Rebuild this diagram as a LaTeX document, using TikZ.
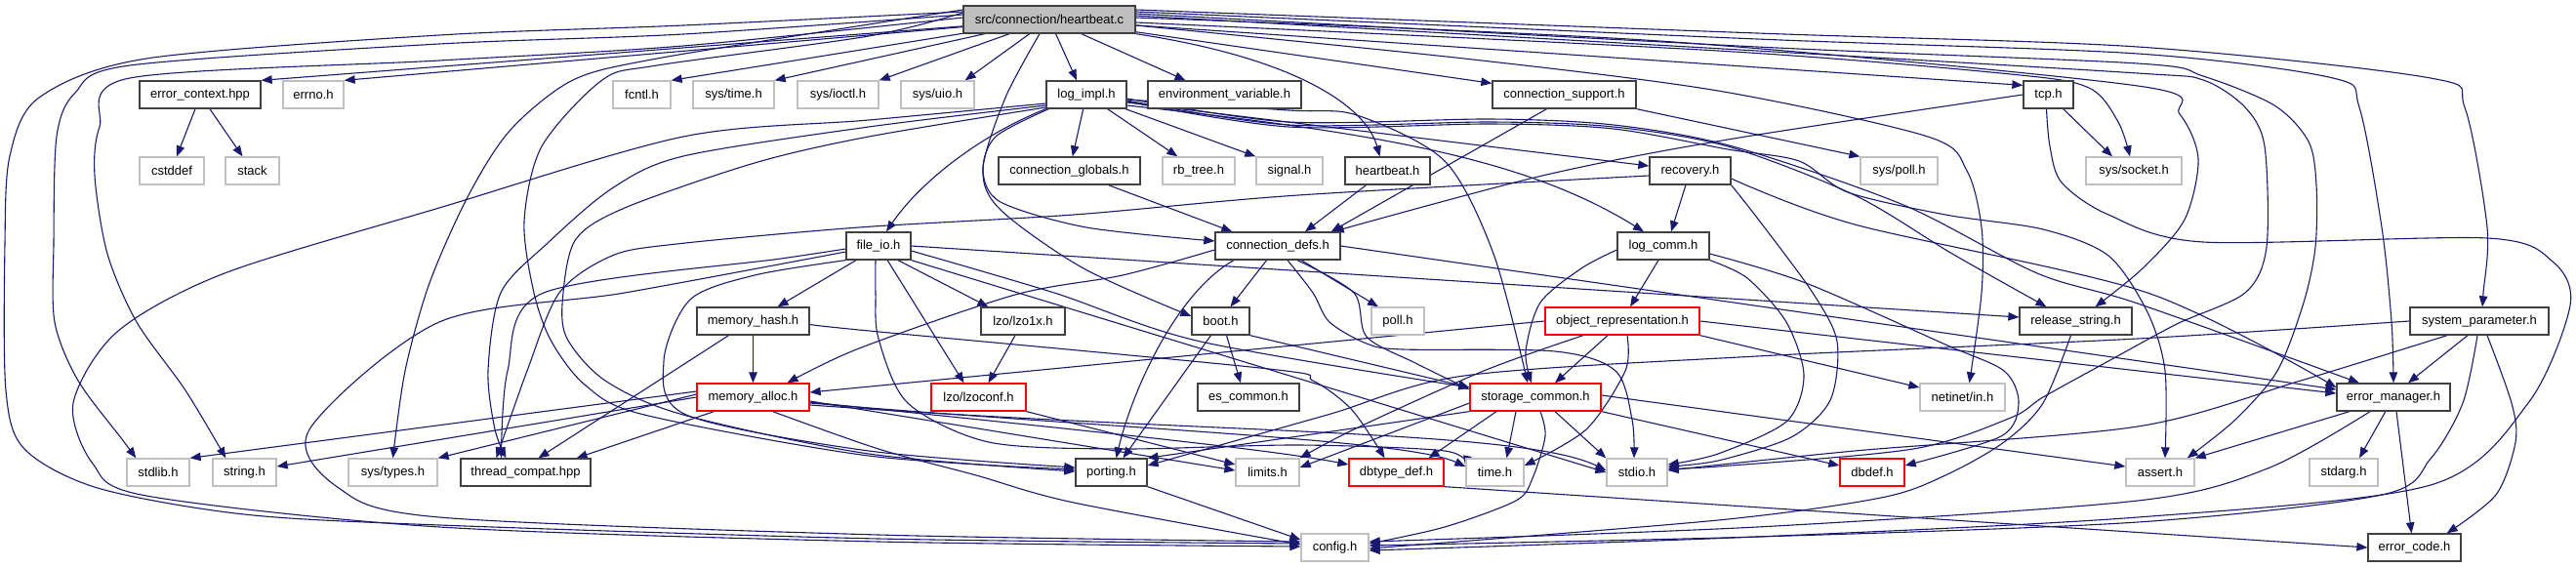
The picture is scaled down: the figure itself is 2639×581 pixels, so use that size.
\documentclass[tikz,border=0pt]{standalone}
\usepackage{fontspec}
\setmainfont{Liberation Sans}
\usetikzlibrary{arrows.meta}
\definecolor{edgec}{HTML}{191970}
\definecolor{bord}{HTML}{404040}
\definecolor{gbord}{HTML}{BFBFBF}
\definecolor{rootfill}{HTML}{BFBFBF}
\pgfdeclarelayer{bg}
\pgfdeclarelayer{paper}
\pgfsetlayers{paper,bg,main}
\begin{document}
\begin{tikzpicture}[x=1pt,y=-1pt,
  every node/.style={font=\fontsize{13}{15}\selectfont},
  nb/.style={draw, rectangle, minimum height=28pt, inner sep=0pt, line width=1.3pt, fill=white},
  bn/.style={nb, draw=bord},
  gn/.style={nb, draw=gbord},
  rn/.style={nb, draw=red},
  rt/.style={nb, draw=bord, fill=rootfill},
  e/.style={draw=edgec, line width=1.1pt, -{Triangle[length=11pt,width=8.5pt]}}]
\useasboundingbox (0,0) rectangle (2639,581);
\begin{pgfonlayer}{paper}
\fill[white] (0,0) rectangle (2639,581);
\end{pgfonlayer}
% ---------------- nodes
\node[rt, minimum width=176pt] (hb) at (1075,20) {src/connection/heartbeat.c};
\node[bn, minimum width=124pt] (ectx) at (205,97) {error\_context.hpp};
\node[gn, minimum width=62pt] (errno) at (321,97) {errno.h};
\node[gn, minimum width=59pt] (fcntl) at (657.5,97) {fcntl.h};
\node[gn, minimum width=83pt] (systime) at (751.5,97) {sys/time.h};
\node[gn, minimum width=83pt] (sysioctl) at (858.5,97) {sys/ioctl.h};
\node[gn, minimum width=75pt] (sysuio) at (960.5,97) {sys/uio.h};
\node[bn, minimum width=82pt] (logimpl) at (1113,97) {log\_impl.h};
\node[bn, minimum width=157pt] (envvar) at (1254.5,97) {environment\_variable.h};
\node[bn, minimum width=147pt] (connsup) at (1602.5,97) {connection\_support.h};
\node[bn, minimum width=51pt] (tcp) at (2098.5,97) {tcp.h};
\node[gn, minimum width=66pt] (cstddef) at (176,175) {cstddef};
\node[gn, minimum width=55pt] (stack) at (258.5,175) {stack};
\node[bn, minimum width=145pt] (connglob) at (1095.5,175) {connection\_globals.h};
\node[gn, minimum width=74pt] (rbtree) at (1228,175) {rb\_tree.h};
\node[gn, minimum width=68pt] (signal) at (1321,175) {signal.h};
\node[bn, minimum width=87pt] (hbh) at (1421.5,175) {heartbeat.h};
\node[bn, minimum width=83pt] (recovery) at (1731.5,175) {recovery.h};
\node[gn, minimum width=79pt] (syspoll) at (1945.5,175) {sys/poll.h};
\node[gn, minimum width=98pt] (syssock) at (2186,175) {sys/socket.h};
\node[bn, minimum width=66pt] (fileio) at (900,252) {file\_io.h};
\node[bn, minimum width=128pt] (conndefs) at (1309,252) {connection\_defs.h};
\node[bn, minimum width=94pt] (logcomm) at (1704,252) {log\_comm.h};
\node[bn, minimum width=115pt] (memhash) at (771.5,329) {memory\_hash.h};
\node[bn, minimum width=86pt] (lzo1x) at (1048,329) {lzo/lzo1x.h};
\node[bn, minimum width=59pt] (boot) at (1250.5,329) {boot.h};
\node[gn, minimum width=54pt] (poll) at (1432,329) {poll.h};
\node[rn, minimum width=158pt] (objrep) at (1662,329) {object\_representation.h};
\node[bn, minimum width=115pt] (relstr) at (2126.5,329) {release\_string.h};
\node[bn, minimum width=142pt] (syspar) at (2540,329) {system\_parameter.h};
\node[rn, minimum width=115pt] (memalloc) at (771.5,407) {memory\_alloc.h};
\node[rn, minimum width=97pt] (lzoconf) at (1002.5,407) {lzo/lzoconf.h};
\node[bn, minimum width=104pt] (escommon) at (1279,407) {es\_common.h};
\node[rn, minimum width=134pt] (storcom) at (1573,407) {storage\_common.h};
\node[gn, minimum width=87pt] (netinet) at (2010.5,407) {netinet/in.h};
\node[bn, minimum width=116pt] (errmgr) at (2452,407) {error\_manager.h};
\node[gn, minimum width=64pt] (stdlib) at (162,484) {stdlib.h};
\node[gn, minimum width=65pt] (string) at (250.5,484) {string.h};
\node[gn, minimum width=91pt] (systypes) at (402.5,484) {sys/types.h};
\node[bn, minimum width=133pt] (thrcompat) at (538.5,484) {thread\_compat.hpp};
\node[bn, minimum width=73pt] (porting) at (1138.5,484) {porting.h};
\node[gn, minimum width=65pt] (limits) at (1298.5,484) {limits.h};
\node[rn, minimum width=97pt] (dbtype) at (1430.5,484) {dbtype\_def.h};
\node[gn, minimum width=59pt] (time) at (1531.5,484) {time.h};
\node[gn, minimum width=62pt] (stdio) at (1677,484) {stdio.h};
\node[rn, minimum width=66pt] (dbdef) at (1918,484) {dbdef.h};
\node[gn, minimum width=70pt] (assert) at (2213,484) {assert.h};
\node[gn, minimum width=70pt] (stdarg) at (2401,484) {stdarg.h};
\node[gn, minimum width=69pt] (config) at (1367.5,561) {config.h};
\node[bn, minimum width=95pt] (errcode) at (2473.5,561) {error\_code.h};
% ---------------- edges
\begin{pgfonlayer}{bg}
% root: straight
\draw[e] (hb) -- (ectx.north east);
\draw[e] (hb) -- (errno.north east);
\draw[e] (hb) -- (fcntl.north east);
\draw[e] (hb) -- (systime.north east);
\draw[e] (hb) -- (sysioctl.north east);
\draw[e] (hb) -- ([xshift=-10pt]sysuio.north east);
\draw[e] (hb) -- ([xshift=-10pt]logimpl.north);
\draw[e] (hb) -- ([xshift=-40pt]envvar.north);
\draw[e] (hb) -- ([yshift=-3pt]connsup.north west);
\draw[e] (hb) -- ([yshift=-5pt]tcp.north west);
% root: curves
\draw[e] (hb.south east) .. controls (1330,60) and (1400,110) .. ([xshift=-8pt]hbh.north);
\draw[e] plot[smooth] coordinates {([yshift=-3pt]hb.east) (1760,52) (2060,76) (2140,90) (2170,125) ([xshift=-4pt]syssock.north)};
\draw[e] plot[smooth] coordinates {([yshift=-6pt]hb.east) (1500,60) (1760,93) (1975,140) (2015,175) (2030,233) (2030,300) ([xshift=7pt]netinet.north)};
\draw[e] plot[smooth] coordinates {([yshift=2pt]hb.east) (1700,42) (2190,88) (2233,117) (2252,163) (2238,225) (2195,275) ([xshift=20pt]relstr.north)};
\draw[e] plot[smooth] coordinates {([yshift=4pt]hb.east) (1800,52) (2190,75) (2257,82) (2300,110) (2320,150) (2322,253) (2300,300) (2230,332) (2160,370) (2093,407) (2060,428) (1960,460) (1760,478) ([yshift=4pt]stdio.east)};
\draw[e] plot[smooth] coordinates {([yshift=6pt]hb.east) (1800,48) (2190,65) (2257,78) (2330,108) (2365,145) (2373,190) (2372,253) (2360,310) (2333,380) (2290,430) ([xshift=-8pt]assert.north east)};
\draw[e] plot[smooth] coordinates {([yshift=8pt]hb.east) (1800,40) (2190,55) (2390,80) (2417,110) (2440,233) (2450,330) (errmgr.north)};
\draw[e] plot[smooth] coordinates {([yshift=10pt]hb.east) (1800,34) (2190,48) (2490,80) (2525,110) (2548,233) (2544,300) ([xshift=3pt]syspar.north)};
\draw[e] plot[smooth] coordinates {([yshift=8pt]hb.west) (700,26) (450,36) (150,60) (40,100) (10,160) (5,250) (6,400) (25,460) (100,500) (250,527) (450,538) (900,552) ([yshift=4pt]config.west)};
\draw[e] plot[smooth] coordinates {([yshift=5pt]hb.west) (700,35) (450,45) (133,67) (77,95) (58,140) (55,250) (56,330) (80,390) (125,450) ([xshift=10pt]stdlib.north west)};
\draw[e] plot[smooth] coordinates {([yshift=2pt]hb.west) (700,47) (450,62) (133,80) (102,130) (97,180) (110,260) (140,330) (190,400) ([xshift=14pt]string.north west)};
\draw[e] plot[smooth] coordinates {([yshift=10pt]hb.west) (890,25) (673,60) (587,82) (523,133) (480,200) (440,290) (415,380) (systypes.north)};
\draw[e] plot[smooth] coordinates {([yshift=7pt]hb.west) (890,37) (673,67) (617,82) (555,150) (537,227) (547,300) (565,350) (600,395) (660,425) (890,467) ([yshift=3pt]porting.west)};
\draw[e] plot[smooth] coordinates {([xshift=-10pt]hb.south) (1030,100) (1007,173) (1025,215) (1110,275) ([yshift=5pt]boot.west)};
% log_impl.h
\draw[e] (logimpl) -- (connglob);
\draw[e] (logimpl) -- (rbtree);
\draw[e] (logimpl) -- (signal.north west);
\draw[e] (logimpl.south west) .. controls (1000,140) and (940,190) .. ([xshift=8pt]fileio.north);
\draw[e] plot[smooth] coordinates {([xshift=3pt]logimpl.south west) (1020,140) (1007,175) (1025,207) (1113,233) ([yshift=5pt]conndefs.west)};
\draw[e] ([yshift=-8pt]logimpl.east) -- ([yshift=5pt]recovery.west);
\draw[e] ([yshift=-11pt]logimpl.east) .. controls (1400,135) and (1560,160) .. ([xshift=-20pt]logcomm.north);
\draw[e] plot[smooth] coordinates {([yshift=-5pt]logimpl.east) (1320,113) (1390,118) (1480,165) (1530,260) ([xshift=-8pt]storcom.north)};
\draw[e] plot[smooth] coordinates {([yshift=-6pt]logimpl.east) (1320,128) (1527,125) (1653,130) (1770,150) (1900,200) (2000,260) ([xshift=-30pt]relstr.north)};
\draw[e] plot[smooth] coordinates {([yshift=-7pt]logimpl.east) (1320,130) (1527,127) (1653,132) (1770,153) (1843,165) (1893,197) (1993,220) (2093,235) (2160,262) (2200,320) (2218,380) ([xshift=5pt]assert.north)};
\draw[e] plot[smooth] coordinates {([yshift=-4pt]logimpl.east) (1320,125) (1527,122) (1653,128) (1775,150) (1950,210) (2087,280) (2190,311) ([xshift=-35pt]errmgr.north)};
\draw[e] plot[smooth] coordinates {([yshift=-11pt]logimpl.west) (890,130) (700,160) (627,193) (560,250) (513,300) (500,380) (507,440) ([xshift=-20pt]thrcompat.north)};
\draw[e] plot[smooth] coordinates {([yshift=-13pt]logimpl.west) (890,140) (773,167) (640,213) (590,245) (577,300) (580,345) (620,390) (700,425) (890,465) ([yshift=1pt]porting.west)};
\draw[e] plot[smooth] coordinates {([yshift=-9pt]logimpl.west) (890,123) (700,140) (450,213) (230,280) (120,340) (75,413) (95,475) (150,508) (450,540) (900,555) ([yshift=1pt]config.west)};
% error_context.hpp
\draw[e] ([xshift=-5pt]ectx.south) -- ([xshift=5pt]cstddef.north);
\draw[e] ([xshift=10pt]ectx.south) -- ([xshift=-10pt]stack.north);
% connection headers
\draw[e] ([xshift=40pt]connglob.south) -- ([xshift=18pt]conndefs.north west);
\draw[e] ([xshift=-22pt]hbh.south) -- ([xshift=28pt]conndefs.north);
\draw[e] ([xshift=-18pt]connsup.south) -- ([xshift=-10pt]conndefs.north east);
\draw[e] (connsup.south east) -- (syspoll.north west);
\draw[e] plot[smooth] coordinates {(tcp.west) (1770,143) (1580,180) ([xshift=-8pt]conndefs.north east)};
\draw[e] (tcp) -- ([xshift=-22pt]syssock.north);
\draw[e] plot[smooth] coordinates {([xshift=-2pt]tcp.south) (2100,150) (2112,187) (2160,220) (2257,248) (2548,244) (2615,268) (2633,313) (2590,413) (2490,497) (2190,530) (1800,550) ([yshift=-3pt]config.east)};
% recovery.h
\draw[e] (recovery) -- ([xshift=8pt]logcomm.north);
\draw[e] plot[smooth] coordinates {([yshift=-5pt]recovery.west) (1330,200) (1100,220) (880,233) (693,250) (627,262) (573,300) (540,380) ([xshift=-30pt]thrcompat.north)};
\draw[e] plot[smooth] coordinates {(recovery.south east) (1803,227) (1857,300) (1882,350) (1875,410) (1835,448) (1760,472) ([yshift=6pt]stdio.east)};
\draw[e] plot[smooth] coordinates {([yshift=-8pt]recovery.east) (1900,230) (2200,300) ([yshift=10pt]errmgr.west)};
% log_comm.h
\draw[e] ([xshift=-5pt]logcomm.south) -- ([xshift=8pt]objrep.north);
\draw[e] plot[smooth] coordinates {([yshift=-4pt]logcomm.west) (1620,275) (1578,310) (1563,360) ([xshift=-4pt]storcom.north)};
\draw[e] plot[smooth] coordinates {(logcomm.south east) (1790,285) (1830,330) (1848,385) (1830,432) (1760,465) ([yshift=8pt]stdio.east)};
\draw[e] plot[smooth] coordinates {([yshift=-8pt]logcomm.east) (1850,290) (1993,353) (2053,380) (2068,413) (2050,447) ([yshift=7pt]dbdef.east)};
% connection_defs.h
\draw[e] (conndefs) -- ([xshift=10pt]boot.north);
\draw[e] (conndefs) -- ([xshift=-20pt]poll.north);
\draw[e] ([xshift=-45pt]conndefs.south) .. controls (1205,300) and (1160,400) .. ([xshift=5pt]porting.north);
\draw[e] plot[smooth] coordinates {([yshift=-4pt]conndefs.west) (1150,282) (1040,302) (880,357) ([xshift=35pt]memalloc.north)};
\draw[e] plot[smooth] coordinates {([xshift=10pt]conndefs.south) (1345,300) (1362,330) (1400,352) (1437,358) (1593,360) (1655,380) (1672,430) ([xshift=-3pt]stdio.north)};
\draw[e] plot[smooth] coordinates {([xshift=20pt]conndefs.south) (1387,300) (1400,345) (1450,372) ([yshift=8pt]storcom.west)};
\draw[e] (conndefs.east) -- ([yshift=8pt]errmgr.west);
% file_io.h
\draw[e] ([xshift=-23pt]fileio.south) -- ([xshift=25pt]memhash.north);
\draw[e] ([xshift=20pt]fileio.south) -- ([xshift=8pt]lzo1x.north west);
\draw[e] (fileio) -- ([xshift=-15pt]lzoconf.north);
\draw[e] plot[smooth] coordinates {([yshift=-3pt]fileio.west) (800,265) (557,300) (520,380) ([xshift=-25pt]thrcompat.north)};
\draw[e] plot[smooth] coordinates {([yshift=-6pt]fileio.west) (640,300) (450,330) (317,440) (347,500) (450,530) (900,548) ([yshift=6pt]config.west)};
\draw[e] plot[smooth] coordinates {(fileio.south west) (773,282) (707,307) (680,370) (703,425) (890,462) ([yshift=5pt]porting.west)};
\draw[e] (fileio.east) -- ([yshift=4pt]relstr.west);
\draw[e] plot[smooth] coordinates {([yshift=-5pt]fileio.east) (1080,300) (1230,350) ([yshift=10pt]storcom.west)};
\draw[e] (fileio.south east) -- (stdio.west);
\draw[e] plot[smooth] coordinates {([xshift=-3pt]fileio.south) (897,300) (900,347) (930,413) (1013,453) (1147,460) (1330,456) (1480,462) ([yshift=6pt]time.west)};
% memory_hash.h
\draw[e] (memhash) -- (memalloc);
\draw[e] ([xshift=-25pt]memhash.south) -- ([xshift=13pt]thrcompat.north);
\draw[e] plot[smooth] coordinates {([yshift=-3pt]memhash.east) (880,338) (1300,378) (1345,390) (1385,420) ([xshift=-12pt]dbtype.north)};
% memory_alloc.h
\draw[e] ([xshift=-40pt]memalloc.south) -- ([xshift=-15pt]thrcompat.north east);
\draw[e] ([yshift=3pt]memalloc.west) -- (systypes.north east);
\draw[e] ([yshift=6pt]memalloc.west) -- (stdlib.north east);
\draw[e] (memalloc.west) -- ([yshift=6pt]string.east);
\draw[e] plot[smooth] coordinates {([xshift=20pt]memalloc.south) (900,460) (1000,487) (1100,515) ([yshift=3pt]config.west)};
\draw[e] ([yshift=-4pt]memalloc.east) -- ([yshift=2pt]limits.west);
\draw[e] ([yshift=-6pt]memalloc.east) .. controls (1150,440) and (1440,450) .. ([yshift=6pt]time.west);
\draw[e] ([yshift=-8pt]memalloc.east) .. controls (1250,445) and (1560,440) .. ([yshift=2pt]stdio.west);
\draw[e] ([yshift=-5pt]memalloc.east) .. controls (1100,440) and (1300,460) .. ([yshift=8pt]dbtype.west);
% lzo
\draw[e] ([xshift=-8pt]lzo1x.south) -- ([xshift=10pt]lzoconf.north);
\draw[e] (lzoconf.south east) -- ([yshift=8pt]limits.west);
% boot.h
\draw[e] ([xshift=6pt]boot.south) -- ([xshift=-8pt]escommon.north);
\draw[e] ([xshift=-10pt]boot.south) -- ([xshift=12pt]porting.north);
\draw[e] (boot.south east) -- ([yshift=10pt]storcom.west);
% object_representation.h
\draw[e] ([xshift=-15pt]objrep.south) -- ([xshift=20pt]storcom.north);
\draw[e] (objrep.west) -- ([yshift=5pt]memalloc.east);
\draw[e] plot[smooth] coordinates {([xshift=5pt]objrep.south) (1665,380) (1625,440) ([yshift=7pt]time.east)};
\draw[e] plot[smooth] coordinates {([xshift=-40pt]objrep.south) (1520,380) (1387,440) (limits.north east)};
\draw[e] (objrep.south east) -- ([yshift=10pt]netinet.west);
\draw[e] (objrep.east) -- ([yshift=4pt]errmgr.west);
% storage_common.h
\draw[e] (storcom.south west) -- (porting.north east);
\draw[e] ([yshift=-6pt]storcom.west) -- ([yshift=5pt]limits.east);
\draw[e] ([xshift=-40pt]storcom.south) -- ([xshift=33pt]dbtype.north);
\draw[e] ([xshift=-20pt]storcom.south) -- ([xshift=12pt]time.north);
\draw[e] ([xshift=20pt]storcom.south) -- (stdio.north west);
\draw[e] plot[smooth] coordinates {([xshift=5pt]storcom.south) (1583,447) (1570,490) (1553,513) (1480,540) ([yshift=4pt]config.east)};
\draw[e] (storcom.south east) -- ([yshift=7pt]dbdef.west);
\draw[e] ([yshift=2pt]storcom.east) -- ([yshift=6pt]assert.west);
% system_parameter.h
\draw[e] ([xshift=-12pt]syspar.south) -- ([xshift=15pt]errmgr.north);
\draw[e] plot[smooth] coordinates {([xshift=8pt]syspar.south) (2573,413) (2577,453) (2557,507) ([xshift=-15pt]errcode.north east)};
\draw[e] plot[smooth] coordinates {([xshift=-2pt]syspar.south) (2523,413) (2490,470) (2440,507) (2190,535) (1800,550) ([yshift=2pt]config.east)};
\draw[e] plot[smooth] coordinates {([xshift=-33pt]syspar.south) (2357,390) (2190,437) (1900,462) ([yshift=2pt]stdio.east)};
\draw[e] plot[smooth] coordinates {(syspar.west) (2190,347) (1800,365) (1500,385) (1360,425) ([yshift=7pt]porting.east)};
% error_manager.h
\draw[e] ([xshift=-45pt]errmgr.south) -- (assert.north east);
\draw[e] (errmgr) -- ([xshift=16pt]stdarg.north);
\draw[e] ([xshift=3pt]errmgr.south) -- ([xshift=-3pt]errcode.north);
\draw[e] plot[smooth] coordinates {([xshift=-24pt]errmgr.south) (2323,480) (2190,513) (1800,540) ([yshift=6pt]config.east)};
% others
\draw[e] (dbtype.south east) -- (errcode.west);
\draw[e] plot[smooth] coordinates {([xshift=-5pt]relstr.south) (2093,413) (2053,453) (1993,487) (1927,510) (1760,533) ([yshift=-1pt]config.east)};
\draw[e] (porting.south east) -- ([yshift=8pt]config.west);
\end{pgfonlayer}
\end{tikzpicture}
\end{document}
